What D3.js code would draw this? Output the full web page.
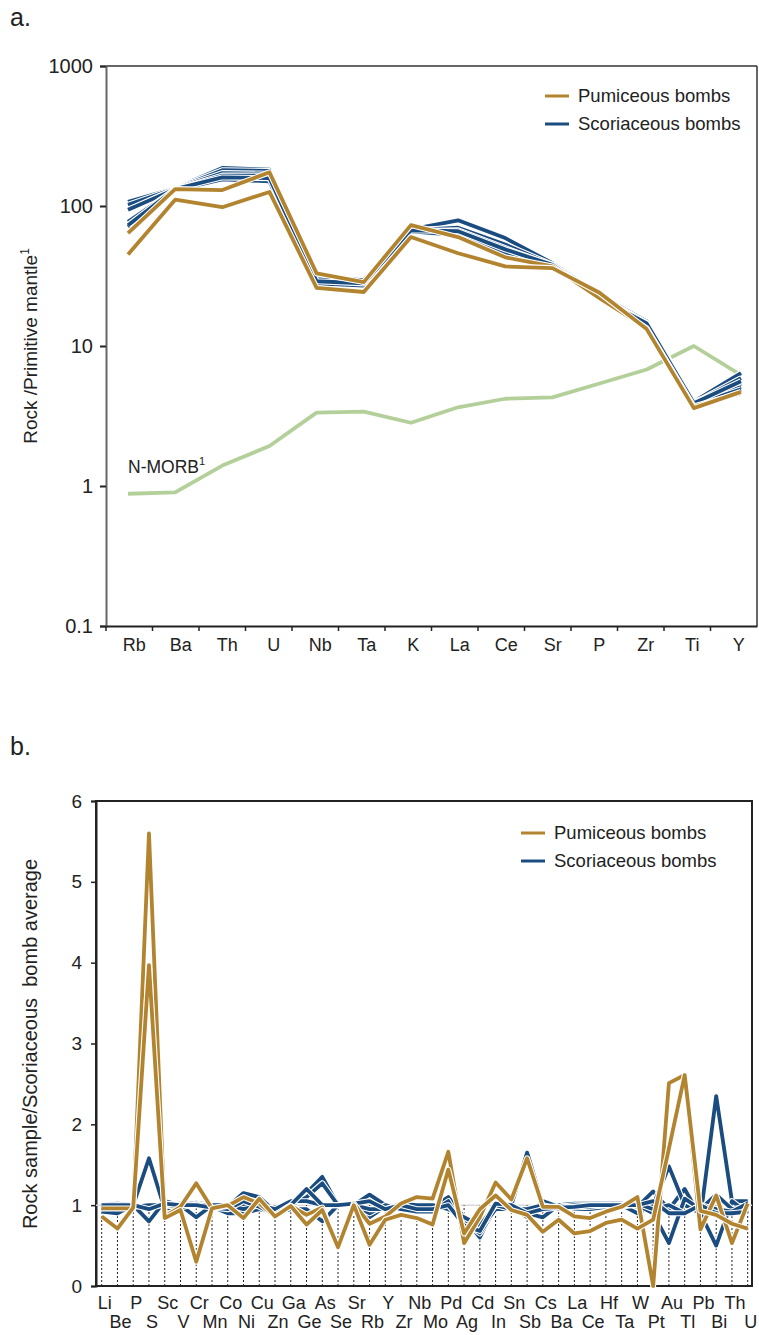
<!DOCTYPE html>
<html>
<head>
<meta charset="utf-8">
<script src="https://cdn.jsdelivr.net/npm/d3@7"></script>
<style>
  body { margin: 0; background: #fff; }
  svg { display: block; font-family: "Liberation Sans", Arial, sans-serif; }
</style>
</head>
<body>
<div id="chart"></div>
<script>
// ---- panel a data (rock / primitive mantle) ----
const elementsA = ['Rb', 'Ba', 'Th', 'U', 'Nb', 'Ta', 'K', 'La', 'Ce', 'Sr', 'P', 'Zr', 'Ti', 'Y'];
const ticksA = [0.1, 1, 10, 100, 1000];
const morbA = [0.88, 0.9, 1.4, 1.93, 3.34, 3.4, 2.83, 3.65, 4.2, 4.3, 5.4, 6.8, 10.0, 6.2];
const scoriaA = [
  [107, 134, 187, 182, 31, 29.5, 68, 79, 59, 39, 23, 15, 4.0, 6.4],
  [102, 133, 180, 178, 29, 28, 67, 70, 53, 38, 22.5, 14.6, 3.9, 5.9],
  [94, 132, 172, 170, 28, 27.5, 66, 67, 50, 37.5, 22, 14.2, 3.85, 5.4],
  [77, 131, 165, 165, 30, 28.5, 69, 64, 48, 38, 22.5, 14.5, 4.0, 5.1],
  [71, 130, 155, 150, 28, 27, 66, 62, 46, 37, 22, 14, 3.8, 4.9],
  [73, 132, 160, 158, 29, 28, 67, 66, 49, 38, 22, 14.5, 3.9, 5.6]
];
const pumiceA = [
  [64, 132, 130, 174, 33, 28.6, 73, 60, 43, 37, 22, 13.4, 3.7, 4.6],
  [45, 111, 98, 126, 26, 24.3, 60, 46, 37, 36, 24, 13.2, 3.6, 4.7]
];

// ---- panel b data (rock sample / scoriaceous bomb average) ----
const elementsB = ['Li', 'Be', 'P', 'S', 'Sc', 'V', 'Cr', 'Mn', 'Co', 'Ni', 'Cu', 'Zn', 'Ga', 'Ge', 'As', 'Se',
  'Sr', 'Rb', 'Y', 'Zr', 'Nb', 'Mo', 'Pd', 'Ag', 'Cd', 'In', 'Sn', 'Sb', 'Cs', 'Ba', 'La', 'Ce', 'Hf', 'Ta',
  'W', 'Pt', 'Au', 'Tl', 'Pb', 'Bi', 'Th', 'U'];
const ticksB = [0, 1, 2, 3, 4, 5, 6];
const scoriaB = [
  [1.0, 1.02, 1.0, 1.58, 0.95, 1.0, 1.03, 1.0, 0.98, 1.15, 1.1, 0.92, 1.02, 1.15, 1.35, 1.0, 1.0, 1.13, 1.0, 1.0, 0.98,
   0.98, 1.1, 0.85, 0.6, 1.0, 1.0, 1.65, 1.0, 1.0, 1.02, 1.02, 1.02, 1.02, 0.98, 1.17, 0.95, 1.2, 0.85, 2.35, 1.05, 1.05],
  [0.98, 0.98, 1.0, 0.8, 1.05, 1.0, 0.85, 1.0, 0.98, 1.0, 1.02, 0.92, 1.0, 1.1, 1.27, 1.0, 0.98, 0.85, 0.98, 1.0, 1.0,
   1.0, 1.0, 0.8, 0.65, 0.95, 0.98, 0.85, 1.05, 0.98, 1.0, 1.0, 1.0, 1.0, 0.9, 1.0, 1.48, 1.0, 0.9, 0.5, 1.05, 0.9],
  [0.92, 0.9, 1.0, 1.0, 1.0, 0.97, 1.02, 0.98, 0.9, 0.9, 0.95, 0.9, 0.95, 0.95, 0.8, 1.0, 1.0, 0.9, 1.0, 0.95, 0.92,
   0.92, 1.05, 0.7, 0.7, 0.95, 0.95, 0.9, 0.85, 1.0, 0.95, 0.95, 0.98, 1.0, 1.0, 0.9, 0.53, 1.08, 0.95, 1.13, 0.95, 0.98],
  [0.97, 1.0, 0.98, 1.0, 1.0, 1.02, 1.0, 1.0, 1.0, 0.95, 1.0, 0.95, 1.05, 1.05, 1.0, 1.0, 1.0, 0.95, 0.95, 1.02, 1.0,
   1.0, 0.95, 0.85, 0.75, 1.0, 0.95, 0.95, 1.0, 0.95, 0.97, 0.98, 1.0, 0.98, 1.02, 0.95, 1.0, 0.9, 1.0, 0.95, 0.92, 1.02],
  [1.0, 1.0, 1.0, 0.95, 1.02, 1.0, 1.0, 0.97, 0.95, 1.05, 0.98, 0.88, 1.0, 1.2, 1.0, 1.0, 1.02, 1.05, 0.95, 1.0, 0.95,
   0.95, 1.0, 0.75, 0.68, 1.02, 1.0, 0.9, 0.95, 0.97, 0.98, 1.0, 1.0, 1.0, 1.0, 1.05, 0.9, 0.9, 1.0, 0.9, 0.9, 0.92]
];
const pumiceB = [
  [0.96, 0.96, 0.96, 5.6, 0.86, 0.98, 1.27, 0.96, 0.99, 1.1, 1.02, 0.86, 0.99, 0.88, 0.97, 0.47, 1.02, 0.77, 0.86, 1.02, 1.1,
   1.08, 1.66, 0.53, 0.85, 1.28, 1.07, 1.58, 0.98, 0.98, 0.86, 0.84, 0.92, 0.98, 1.1, 0.0, 2.51, 2.61, 0.7, 1.12, 0.53, 1.02],
  [0.86, 0.71, 0.97, 3.97, 0.84, 0.94, 0.3, 0.96, 1.0, 0.84, 1.08, 0.86, 0.99, 0.76, 0.94, 0.48, 1.0, 0.51, 0.82, 0.88, 0.84,
   0.76, 1.44, 0.65, 0.95, 1.12, 0.94, 0.88, 0.67, 0.82, 0.65, 0.68, 0.78, 0.82, 0.71, 0.82, 1.7, 2.61, 0.93, 0.88, 0.77, 0.71]
];

const seriesNames = ['Pumiceous bombs', 'Scoriaceous bombs'];
const GOLD = '#b3842f', BLUE = '#1a4c80', GREEN = '#b4d09a';
const FONT = 'Liberation Sans, Arial, sans-serif';

const svg = d3.select('#chart').append('svg').attr('width', 759).attr('height', 1335);

function drawLine(g, pts, color) {
  const line = d3.line().x(d => d[0]).y(d => d[1]);
  g.append('path').attr('d', line(pts)).attr('fill', 'none')
    .attr('stroke', '#fff').attr('stroke-width', 6).attr('stroke-linejoin', 'round');
  g.append('path').attr('d', line(pts)).attr('fill', 'none')
    .attr('stroke', color).attr('stroke-width', 3.8).attr('stroke-linejoin', 'round');
}

function legend(g, x, y) {
  [GOLD, BLUE].forEach((c, i) => {
    g.append('line').attr('x1', x).attr('x2', x + 24).attr('y1', y + i * 28).attr('y2', y + i * 28)
      .attr('stroke', c).attr('stroke-width', 3);
    g.append('text').attr('x', x + 33).attr('y', y + i * 28).attr('dy', '0.35em')
      .attr('font-size', 18.5).attr('fill', '#222').text(seriesNames[i]);
  });
}

// ================= panel a =================
const A = { l: 106, r: 757, t: 66, b: 626 };
const xa = d3.scalePoint().domain(elementsA).range([128, 741]);
const xaBand = d3.scaleBand().domain(elementsA).range([A.l, A.r]);
const ya = d3.scaleLog().domain([0.1, 1000]).range([A.b, A.t]);
const ga = svg.append('g');

ga.append('text').attr('x', 10).attr('y', 26).attr('font-size', 25).attr('fill', '#222').text('a.');

ga.append('line').attr('x1', A.l).attr('x2', A.r).attr('y1', A.t).attr('y2', A.t).attr('stroke', '#333').attr('stroke-width', 1.5);
ga.append('line').attr('x1', A.r).attr('x2', A.r).attr('y1', A.t).attr('y2', A.b).attr('stroke', '#333').attr('stroke-width', 1.5);

const yAxisA = ga.append('g').attr('transform', `translate(${A.l},0)`)
  .call(d3.axisLeft(ya).tickValues(ticksA).tickFormat(d => String(d)).tickSize(6).tickPadding(7));
yAxisA.select('.domain').attr('stroke', '#666').attr('stroke-width', 2);
yAxisA.selectAll('.tick line').attr('stroke', '#222').attr('stroke-width', 2);
yAxisA.selectAll('.tick text').attr('font-size', 20).attr('fill', '#222').style('font-family', FONT);

const xAxisA = ga.append('g').attr('transform', `translate(0,${A.b})`)
  .call(d3.axisBottom(xaBand).tickSize(5).tickPadding(7).tickSizeOuter(0));
xAxisA.select('.domain').attr('stroke', '#222').attr('stroke-width', 2);
xAxisA.selectAll('.tick line').attr('stroke', '#222').attr('stroke-width', 1.5)
  .attr('x1', -xaBand.bandwidth() / 2).attr('x2', -xaBand.bandwidth() / 2);
xAxisA.selectAll('.tick text').attr('font-size', 18).attr('fill', '#222').attr('dx', 5)
  .style('font-family', FONT);

ga.append('text').attr('transform', 'translate(37,346) rotate(-90)').attr('text-anchor', 'middle')
  .attr('font-size', 19).attr('fill', '#222')
  .html('Rock /Primitive mantle<tspan dy="-8" font-size="12">1</tspan>');

drawLine(ga, elementsA.map((e, i) => [xa(e), ya(morbA[i])]), GREEN);
scoriaA.forEach(s => drawLine(ga, elementsA.map((e, i) => [xa(e), ya(s[i])]), BLUE));
pumiceA.forEach(s => drawLine(ga, elementsA.map((e, i) => [xa(e), ya(s[i])]), GOLD));

ga.append('text').attr('x', 128).attr('y', 473).attr('font-size', 17.5).attr('fill', '#222')
  .html('N-MORB<tspan dy="-8" font-size="11">1</tspan>');

legend(ga, 545, 96);

// ================= panel b =================
const B = { l: 96, r: 752, t: 801, b: 1286 };
const xb = d3.scalePoint().domain(elementsB).range([101.7, 747.7]);
const yb = d3.scaleLinear().domain([0, 6]).range([B.b, B.t]);
const gb = svg.append('g');

gb.append('text').attr('x', 10).attr('y', 755).attr('font-size', 25).attr('fill', '#222').text('b.');

gb.append('rect').attr('x', B.l).attr('y', B.t).attr('width', B.r - B.l).attr('height', B.b - B.t)
  .attr('fill', 'none').attr('stroke', '#222').attr('stroke-width', 2);

const yAxisB = gb.append('g').attr('transform', `translate(${B.l},0)`)
  .call(d3.axisLeft(yb).tickValues(ticksB).tickFormat(d3.format('d')).tickSize(5).tickPadding(9));
yAxisB.select('.domain').attr('stroke', '#222').attr('stroke-width', 2);
yAxisB.selectAll('.tick line').attr('stroke', '#222').attr('stroke-width', 1.5);
yAxisB.selectAll('.tick text').attr('font-size', 19).attr('fill', '#222').style('font-family', FONT);

// reference line at 1 and dotted drop lines
gb.append('line').attr('x1', B.l).attr('x2', B.r).attr('y1', yb(1)).attr('y2', yb(1))
  .attr('stroke', '#d9d9d9').attr('stroke-width', 1.5);
gb.selectAll('line.drop').data(elementsB).enter().append('line').attr('class', 'drop')
  .attr('x1', d => xb(d)).attr('x2', d => xb(d)).attr('y1', yb(0)).attr('y2', yb(1))
  .attr('stroke', '#222').attr('stroke-width', 1).attr('stroke-dasharray', '2,2');

scoriaB.forEach(s => drawLine(gb, elementsB.map((e, i) => [xb(e), yb(s[i])]), BLUE));
pumiceB.forEach(s => drawLine(gb, elementsB.map((e, i) => [xb(e), yb(s[i])]), GOLD));

gb.selectAll('text.xl').data(elementsB).enter().append('text').attr('class', 'xl')
  .attr('x', d => xb(d) + 3).attr('y', (d, i) => i % 2 === 0 ? 1309 : 1328)
  .attr('text-anchor', 'middle').attr('font-size', 18).attr('fill', '#222').text(d => d);

gb.append('text').attr('transform', 'translate(37,1044) rotate(-90)').attr('text-anchor', 'middle')
  .attr('font-size', 20).attr('fill', '#222').attr('xml:space', 'preserve')
  .style('white-space', 'pre').text('Rock sample/Scoriaceous  bomb average');

legend(gb, 521, 833);
</script>
</body>
</html>
